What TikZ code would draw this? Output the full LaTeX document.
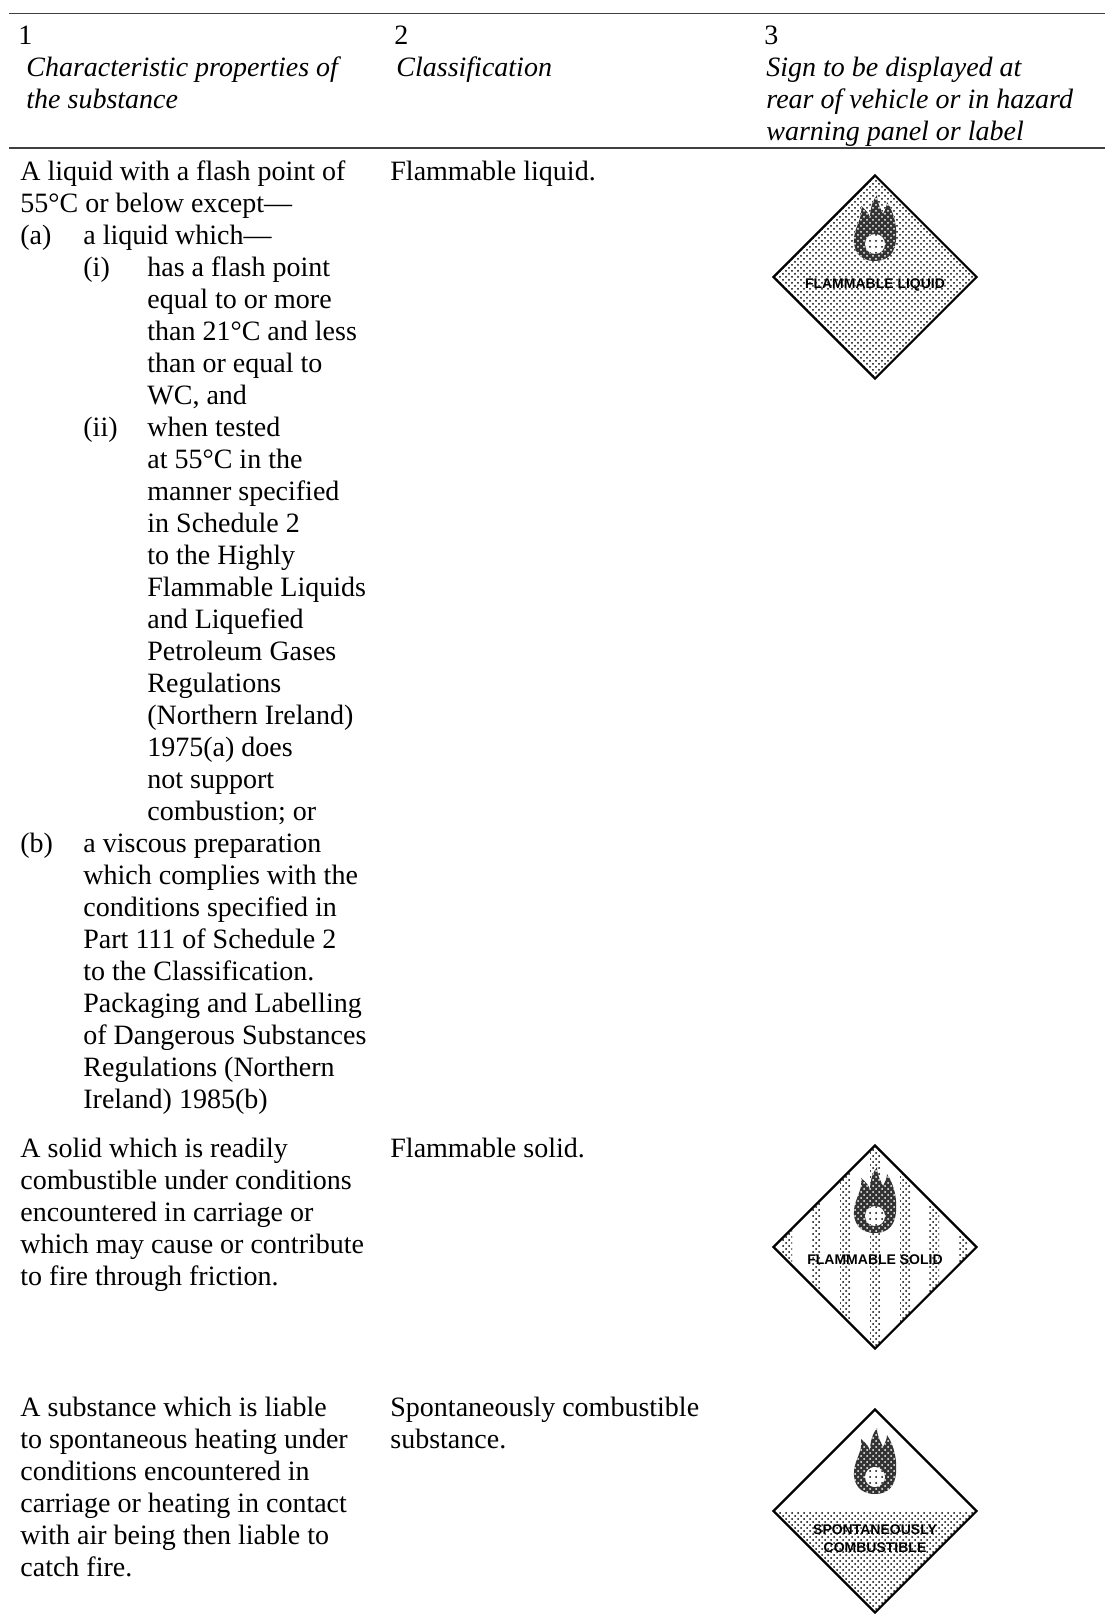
\documentclass[tikz,border=0pt]{standalone}
\usepackage{fontspec}
\setmainfont{Liberation Serif}
\newfontfamily\signfont{Liberation Sans}
\usetikzlibrary{shapes.geometric,patterns}

\tikzset{
  cell/.style={anchor=north west, inner sep=0pt, align=left,
    font=\fontsize{14pt}{16pt}\selectfont},
  head/.style={cell, font=\fontsize{14pt}{16pt}\selectfont\itshape},
  rule/.style={line width=0.9pt, black!75},
  sign/.style={diamond, draw, line width=1.1pt, inner sep=0pt,
    minimum width=102pt, minimum height=102pt},
  stipple/.style={pattern=crosshatch dots, pattern color=black},
  stripes/.style={path picture={
    \foreach \sx in {-88,-59,-30,0,30,59,88}
      \fill[stipple] ([xshift=\sx*0.5pt-2.5pt]path picture bounding box.north)
        rectangle ([xshift=\sx*0.5pt+2.5pt]path picture bounding box.south);}},
  lowerhalf/.style={path picture={
    \fill[stipple] (path picture bounding box.west)
      rectangle (path picture bounding box.south east);}},
  signtext/.style={inner sep=0pt, align=center,
    font=\signfont\bfseries\fontsize{7pt}{9pt}\selectfont},
  flame/.pic={
    \fill[black!80, postaction={pattern=crosshatch dots, pattern color=white}]
      (0,33) .. controls (-16,33) and (-22,22) .. (-21,10)
      .. controls (-20,-2) and (-12,-10) .. (-14,-22)
      .. controls (-8,-17) and (-6,-14) .. (-5,-10)
      .. controls (-5,-20) and (-2,-28) .. (2,-33)
      .. controls (2,-24) and (6,-19) .. (8,-14)
      .. controls (10,-18) and (12,-22) .. (12,-26)
      .. controls (20,-14) and (22,0) .. (21,12)
      .. controls (20,24) and (14,33) .. (0,33) -- cycle;
    \fill[white, postaction={pattern=dots, pattern color=black}] (0,16) circle (10);
  }
}

\begin{document}
\begin{tikzpicture}[x=0.5pt, y=-0.5pt]
    \useasboundingbox (0,0) rectangle (1105,1615);

    % Header
    \draw[rule] (9,13.5) -- (1105,13.5);
    \node[cell] (hone) at (18,21.6) {\strut 1};
    \node[head] (hprop) at (26,53.6) {\strut Characteristic properties of\\the substance};
    \node[cell] (htwo) at (394,21.6) {\strut 2};
    \node[head] (hclass) at (396,53.6) {\strut Classification};
    \node[cell] (hthree) at (764,21.6) {\strut 3};
    \node[head] (hsign) at (766,53.6) {\strut Sign to be displayed at\\rear of vehicle or in hazard\\warning panel or label};
    \draw[rule] (9,148) -- (1105,148);

    % Flammable liquid
    \node[cell] (liqdesc) at (20,157.6) {\strut A liquid with a flash point of\\55°C or below except—};
    \node[cell] (liqa) at (20,221.6) {\strut (a)};
    \node[cell] (liqatext) at (83,221.6) {\strut a liquid which—};
    \node[cell] (liqi) at (83,253.6) {\strut (i)};
    \node[cell] (liqitext) at (147,253.6) {\strut has a flash point\\equal to or more\\than 21°C and less\\than or equal to\\WC, and};
    \node[cell] (liqii) at (83,413.6) {\strut (ii)};
    \node[cell] (liqiitext) at (147,413.6) {\strut when tested\\at 55°C in the\\manner specified\\in Schedule 2\\to the Highly\\Flammable Liquids\\and Liquefied\\Petroleum Gases\\Regulations\\(Northern Ireland)\\1975(a) does\\not support\\combustion; or};
    \node[cell] (liqb) at (20,829.6) {\strut (b)};
    \node[cell] (liqbtext) at (83,829.6) {\strut a viscous preparation\\which complies with the\\conditions specified in\\Part 111 of Schedule 2\\to the Classification.\\Packaging and Labelling\\of Dangerous Substances\\Regulations (Northern\\Ireland) 1985(b)};
    \node[cell] (liqclass) at (390,157.6) {\strut Flammable liquid.};
    \node[sign, stipple] (signliq) at (875,277) {};
    \pic at ([yshift=24.5pt]signliq.center) {flame};
    \node[signtext] (liqlabel) at ([yshift=-4pt]signliq.center) {FLAMMABLE LIQUID};

    % Flammable solid
    \node[cell] (soldesc) at (20,1134.6) {\strut A solid which is readily\\combustible under conditions\\encountered in carriage or\\which may cause or contribute\\to fire through friction.};
    \node[cell] (solclass) at (390,1134.6) {\strut Flammable solid.};
    \node[sign, stripes] (signsol) at (875,1247) {};
    \pic at ([yshift=23.5pt]signsol.center) {flame};
    \node[signtext] (sollabel) at ([yshift=-6.5pt]signsol.center) {FLAMMABLE SOLID};

    % Spontaneously combustible
    \node[cell] (spondesc) at (20,1393.6) {\strut A substance which is liable\\to spontaneous heating under\\conditions encountered in\\carriage or heating in contact\\with air being then liable to\\catch fire.};
    \node[cell] (sponclass) at (390,1393.6) {\strut Spontaneously combustible\\substance.};
    \node[sign, lowerhalf] (signspon) at (875,1511) {};
    \pic at ([yshift=25pt]signspon.center) {flame};
    \node[signtext] (sponlabel) at ([yshift=-14pt]signspon.center) {SPONTANEOUSLY\\COMBUSTIBLE};
\end{tikzpicture}
\end{document}
